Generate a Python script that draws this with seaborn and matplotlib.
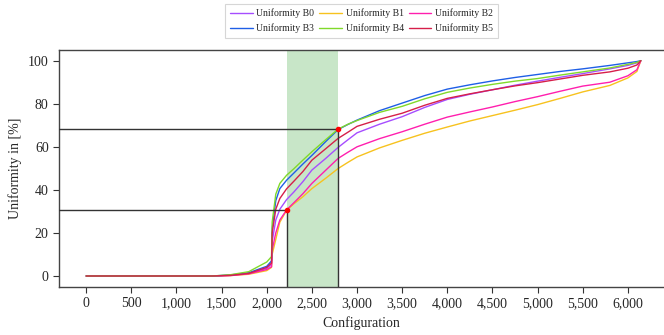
import numpy as np
import pandas as pd
import matplotlib
matplotlib.use("Agg")
import matplotlib.pyplot as plt
import seaborn as sns
from matplotlib.ticker import FuncFormatter, MultipleLocator

sns.set_style("ticks")
plt.rcParams["font.family"] = ["Liberation Serif", "DejaVu Serif"]

# configuration index where each curve was sampled
configs = [0, 1400, 1600, 1800, 2000, 2053, 2060, 2100, 2145, 2220, 2300, 2400,
           2500, 2650, 2790, 2900, 3000, 3250, 3500, 3750, 4000, 4250, 4500,
           4750, 5000, 5250, 5500, 5800, 6000, 6100, 6143]

b0 = [0, 0, 0.3, 1.2, 3.5, 5.5, 16, 26, 31, 35.5, 39, 43.8,
      49.2, 54.5, 59.7, 63.3, 66.5, 70.5, 74, 78.3, 82, 84.4, 86.5,
      88.6, 90.5, 92.3, 94, 96.2, 97.8, 99, 100]
b1 = [0, 0, 0.2, 0.8, 2.5, 4, 10, 17, 25, 30.5, 33.5, 36.8,
      40.6, 45.3, 49.9, 52.8, 55.3, 59.5, 63, 66.3, 69.2, 72, 74.5,
      77, 79.6, 82.5, 85.5, 88.5, 92, 95, 100]
b2 = [0, 0, 0.2, 1, 3, 4.3, 12, 20, 26, 30.7, 34, 38.2,
      43, 49, 54.6, 57.5, 60, 63.8, 67, 70.5, 73.8, 76.2, 78.5,
      81, 83.3, 85.8, 88.2, 90, 93, 95.8, 100]
b3 = [0, 0, 0.5, 1.5, 4.5, 7, 22, 35, 40.6, 44.5, 47.8, 52,
      56, 62.3, 68, 70.4, 72.4, 76.8, 80.3, 83.8, 86.8, 88.8, 90.6,
      92.2, 93.6, 95, 96.2, 97.8, 99, 99.6, 100]
b4 = [0, 0, 0.6, 2, 6.5, 9, 25, 38, 43, 46.8, 49.8, 53.8,
      57.7, 63.2, 68.2, 70.5, 72.2, 76, 78.8, 82.3, 85.3, 87.3, 89,
      90.5, 91.7, 93.3, 94.8, 96.6, 98.3, 99.2, 100]
b5 = [0, 0, 0.3, 1.2, 4, 6, 20, 31, 36, 40.5, 44, 48.5,
      53.8, 59, 63.9, 66.8, 69.5, 72.8, 75.6, 79.3, 82.5, 84.6, 86.5,
      88.3, 89.8, 91.5, 93.2, 94.8, 96.5, 98, 100]

series_names = ["Uniformity B0", "Uniformity B1", "Uniformity B2",
                "Uniformity B3", "Uniformity B4", "Uniformity B5"]
series_vals = [b0, b1, b2, b3, b4, b5]
colors = ["#a64dff", "#f7c21e", "#ff1fae", "#1f5fe6", "#80d92a", "#d61f4a"]

# highlighted window and its cut points
cut_x = [2220, 2790]
cut_y = [30.7, 68.1]

rows = []
for name, vals in zip(series_names, series_vals):
    for c, v in zip(configs, vals):
        rows.append({"Configuration": c, "Uniformity": v, "Series": name})
df = pd.DataFrame(rows)

fig = plt.figure(figsize=(6.64, 3.35), dpi=100)
ax = fig.add_axes([0.089, 0.144, 0.911, 0.707])

xmin, xmax = -300, 6400
ymin, ymax = -5, 105

ax.axvspan(cut_x[0], cut_x[1], color="#c8e6c8", zorder=0, lw=0)

sns.lineplot(data=df, x="Configuration", y="Uniformity", hue="Series",
             palette=dict(zip(series_names, colors)), linewidth=1.0, ax=ax)

for cx, cy in zip(cut_x, cut_y):
    ax.plot([xmin, cx], [cy, cy], color="#333333", lw=1.0, zorder=3)
    ax.plot([cx, cx], [ymin, cy], color="#333333", lw=1.0, zorder=3)
ax.plot(cut_x, cut_y, "o", color="red", ms=3, zorder=4, ls="none")

ax.set_xlim(xmin, xmax)
ax.set_ylim(ymin, ymax)
ax.xaxis.set_major_locator(MultipleLocator(500))
ax.yaxis.set_major_locator(MultipleLocator(20))
ax.xaxis.set_major_formatter(FuncFormatter(lambda v, p: f"{int(v):,}"))
ax.tick_params(labelsize=10, length=4, color="#333333")
ax.set_xlabel("Configuration", fontsize=10)
ax.set_ylabel("Uniformity in [%]", fontsize=10)

ax.spines["right"].set_visible(False)
for s in ["left", "bottom", "top"]:
    ax.spines[s].set_color("#444444")
    ax.spines[s].set_linewidth(1.0)

# row-wise legend order: B0 B1 B2 / B3 B4 B5
handles, labels = ax.get_legend_handles_labels()
order = [0, 3, 1, 4, 2, 5]
leg = ax.legend([handles[i] for i in order], [labels[i] for i in order],
                loc="upper center", bbox_to_anchor=(0.5, 1.215), ncol=3,
                fontsize=7, frameon=True, fancybox=False, edgecolor="#cccccc",
                handlelength=2.3, handletextpad=0.4, columnspacing=0.5,
                borderpad=0.5)
leg.get_frame().set_linewidth(0.8)

fig.savefig("out.png", dpi=100)
